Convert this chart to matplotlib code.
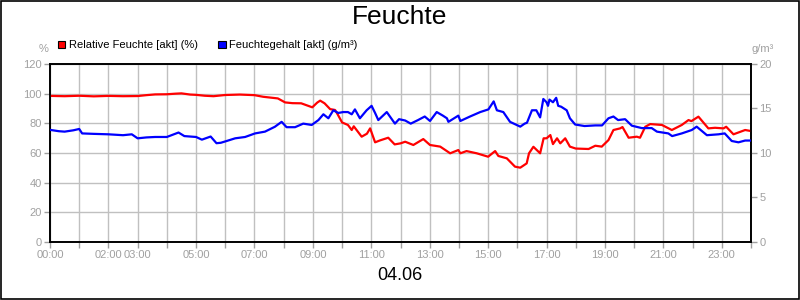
import matplotlib
matplotlib.use("Agg")
import matplotlib.pyplot as plt
from matplotlib.patches import Rectangle

plt.rcParams["font.family"] = ["Liberation Sans", "DejaVu Sans"]

TITLE = "Feuchte"
DATE_LABEL = "04.06"
RH_LABEL = "Relative Feuchte [akt] (%)"
AH_LABEL = "Feuchtegehalt [akt] (g/m³)"

# hours with a visible tick label
LABEL_HOURS = [0, 2, 3, 5, 7, 9, 11, 13, 15, 17, 19, 21, 23]

# relative humidity (%)
rh_hours = [0.0, 0.5, 1.0, 1.5, 2.0, 2.5, 3.0, 3.3, 3.6, 4.0, 4.3, 4.5, 4.8, 5.0,
            5.3, 5.6, 6.0, 6.5, 7.0, 7.3, 7.8, 8.05, 8.3, 8.6, 8.98, 9.15, 9.25,
            9.4, 9.59, 9.76, 9.85, 10.0, 10.2, 10.33, 10.4, 10.67, 10.85, 10.96,
            11.13, 11.3, 11.58, 11.8, 12.0, 12.16, 12.44, 12.78, 13.01, 13.36,
            13.7, 13.98, 14.05, 14.26, 14.61, 15.0, 15.24, 15.35, 15.64, 15.92,
            16.1, 16.32, 16.4, 16.55, 16.78, 16.9, 17.0, 17.13, 17.22, 17.36,
            17.47, 17.64, 17.8, 18.0, 18.44, 18.67, 18.89, 19.12, 19.29, 19.52,
            19.6, 19.81, 20.09, 20.2, 20.38, 20.55, 20.95, 21.29, 21.63, 21.86,
            21.96, 22.2, 22.54, 22.77, 23.06, 23.15, 23.4, 23.8, 24.0]
rh_values = [98.5, 98.3, 98.6, 98.2, 98.5, 98.3, 98.4, 99.0, 99.5, 99.6, 100.0,
             100.2, 99.4, 99.2, 98.6, 98.3, 99.1, 99.4, 99.0, 97.9, 96.8, 94.1,
             93.6, 93.5, 90.8, 94.0, 95.3, 93.5, 89.6, 89.0, 86.0, 80.6, 78.9,
             75.5, 78.0, 71.0, 73.0, 76.6, 67.2, 68.5, 70.3, 65.8, 66.5, 67.6,
             65.4, 69.4, 65.4, 64.3, 59.8, 62.0, 59.8, 61.3, 59.8, 57.5, 61.3,
             58.0, 56.4, 50.8, 50.1, 53.0, 59.8, 64.2, 59.8, 69.9, 69.9, 72.1,
             66.0, 69.9, 66.5, 69.9, 64.3, 63.0, 62.7, 64.9, 64.3, 68.7, 75.5,
             76.6, 77.5, 70.3, 71.0, 70.3, 77.7, 79.5, 78.9, 75.5, 78.9, 82.2,
             81.5, 84.5, 76.6, 77.0, 76.6, 77.7, 72.6, 75.5, 74.8]

# absolute humidity (g/m³)
ah_hours = [0.0, 0.3, 0.5, 0.8, 1.0, 1.1, 1.5, 2.0, 2.5, 2.8, 3.0, 3.3, 3.6, 4.0,
            4.4, 4.6, 5.0, 5.2, 5.5, 5.7, 5.85, 6.0, 6.34, 6.68, 7.02, 7.36, 7.7,
            7.93, 8.1, 8.39, 8.67, 8.96, 9.19, 9.36, 9.53, 9.7, 9.87, 10.04, 10.2,
            10.33, 10.44, 10.61, 10.84, 11.01, 11.13, 11.24, 11.53, 11.81, 11.95,
            12.16, 12.35, 12.6, 12.83, 13.01, 13.24, 13.45, 13.59, 13.64, 13.98,
            14.05, 14.38, 14.73, 15.01, 15.19, 15.3, 15.52, 15.75, 16.1, 16.25,
            16.33, 16.5, 16.65, 16.78, 16.89, 17.0, 17.05, 17.1, 17.22, 17.33,
            17.4, 17.5, 17.69, 17.8, 17.98, 18.3, 18.67, 18.9, 19.12, 19.29,
            19.45, 19.69, 19.92, 20.26, 20.6, 20.78, 21.17, 21.3, 21.63, 21.97,
            22.14, 22.49, 22.89, 23.1, 23.34, 23.57, 23.8, 24.0]
ah_values = [12.6, 12.45, 12.4, 12.55, 12.7, 12.2, 12.15, 12.1, 12.0, 12.1, 11.65,
             11.75, 11.8, 11.8, 12.3, 11.9, 11.8, 11.5, 11.85, 11.1, 11.15, 11.3,
             11.65, 11.8, 12.2, 12.4, 12.95, 13.5, 12.9, 12.9, 13.3, 13.15, 13.7,
             14.35, 13.9, 14.8, 14.5, 14.6, 14.6, 14.35, 14.9, 13.9, 14.8, 15.3,
             14.5, 13.7, 14.6, 13.3, 13.8, 13.65, 13.3, 13.7, 14.1, 13.6, 14.6,
             14.2, 13.9, 13.5, 14.2, 13.6, 14.1, 14.6, 14.9, 15.8, 14.8, 14.6,
             13.5, 12.96, 13.3, 13.4, 14.8, 14.8, 14.0, 16.07, 15.7, 15.3, 16.0,
             15.7, 16.2, 15.3, 15.2, 14.8, 13.9, 13.2, 13.03, 13.1, 13.1, 13.9,
             14.1, 13.7, 13.8, 13.07, 12.8, 12.8, 12.4, 12.2, 11.9, 12.2, 12.58,
             12.96, 12.0, 12.1, 12.2, 11.35, 11.2, 11.4, 11.4]

RED = "#ff0000"
BLUE = "#0000ff"
TICK_GREY = "#a0a0a0"
GRID_GREY = "#c0c0c0"

fig = plt.figure(figsize=(8, 3), dpi=100)
fig.patch.set_facecolor("white")
fig.add_artist(Rectangle((0.001, 0.002), 0.998, 0.996, transform=fig.transFigure,
                         fill=False, edgecolor="black", linewidth=1.2))

ax = fig.add_axes([50 / 800, 1 - 242 / 300, 701 / 800, 178 / 300])
ax.plot(rh_hours, rh_values, color=RED, linewidth=1.6, zorder=3)
ax.set_xlim(0, 24)
ax.set_ylim(0, 120)
ax.set_yticks(range(0, 121, 20))
ax.set_xticks(range(25),
              labels=[f"{h:02d}:00" if h in LABEL_HOURS else "" for h in range(25)])
ax.grid(True, color=GRID_GREY, linewidth=1.0, zorder=0)
ax.tick_params(axis="both", colors=TICK_GREY, labelsize=8, length=4, width=1, pad=2)
for sp in ax.spines.values():
    sp.set_color("black")
    sp.set_linewidth(1.2)

ax2 = ax.twinx()
ax2.plot(ah_hours, ah_values, color=BLUE, linewidth=1.6, zorder=3)
ax2.set_ylim(0, 20)
ax2.set_yticks(range(0, 21, 5))
ax2.tick_params(axis="y", colors=TICK_GREY, labelsize=8, length=4, width=1, pad=2)
for sp in ax2.spines.values():
    sp.set_color("black")
    sp.set_linewidth(1.2)

fig.text(0.5, 1 - 17 / 300, TITLE, ha="center", va="center", fontsize=19, color="black")
fig.text(0.5, 1 - 276 / 300, DATE_LABEL, ha="center", va="center", fontsize=13, color="black")
fig.text(44 / 800, 1 - 49 / 300, "%", ha="center", va="center", fontsize=8, color=TICK_GREY)
fig.text(763 / 800, 1 - 49 / 300, "g/m³", ha="center", va="center", fontsize=8, color=TICK_GREY)

# legend drawn as squares with text
for x0, color, label in [(58, RED, RH_LABEL), (218, BLUE, AH_LABEL)]:
    fig.add_artist(Rectangle((x0 / 800, 1 - 48 / 300), 7.5 / 800, 7 / 300,
                             transform=fig.transFigure, facecolor=color,
                             edgecolor="black", linewidth=0.8))
    fig.text((x0 + 11) / 800, 1 - 44.5 / 300, label, ha="left", va="center",
             fontsize=8, color="black")

fig.savefig("out.png", dpi=100)
